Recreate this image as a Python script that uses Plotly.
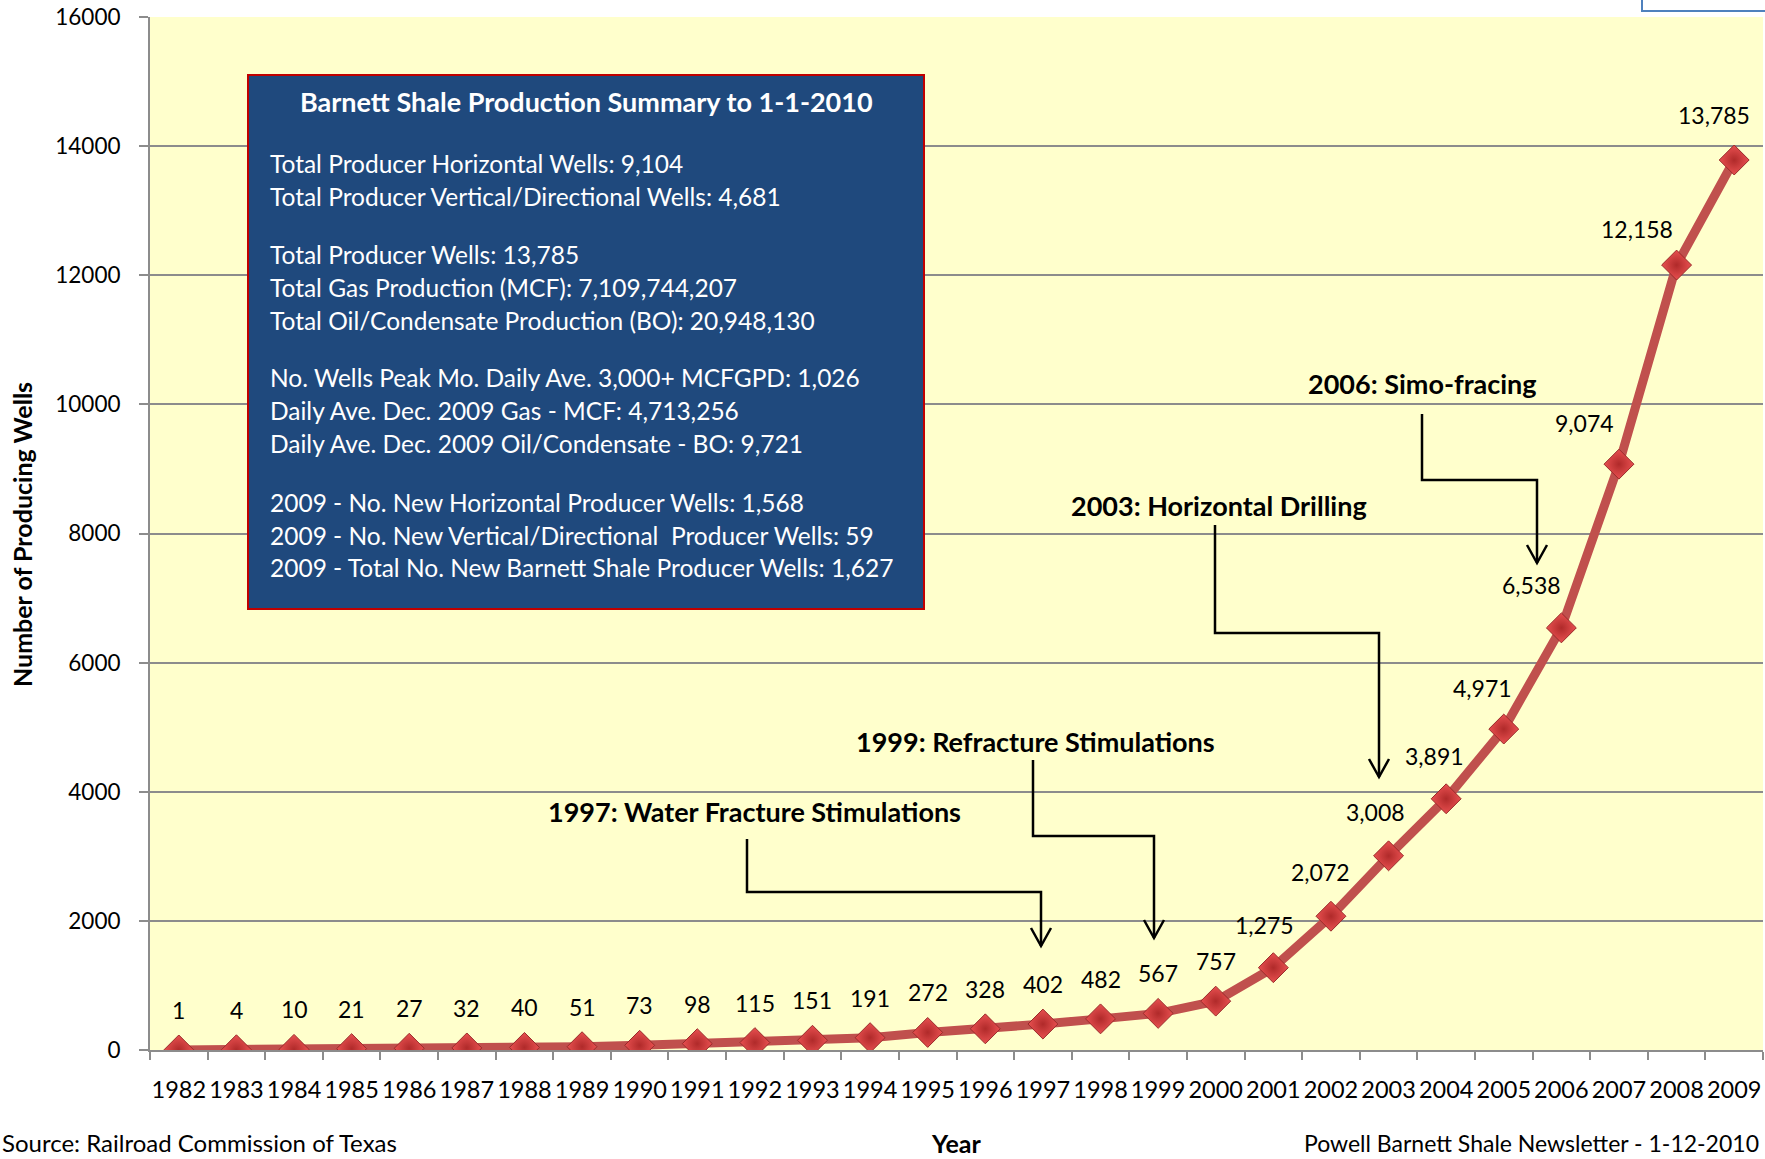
import plotly.graph_objects as go

# ---------------- data ----------------
years = [str(y) for y in range(1982, 2010)]
wells = [1, 4, 10, 21, 27, 32, 40, 51, 73, 98, 115, 151, 191, 272, 328, 402,
         482, 567, 757, 1275, 2072, 3008, 3891, 4971, 6538, 9074, 12158, 13785]
y_ticks = [0, 2000, 4000, 6000, 8000, 10000, 12000, 14000, 16000]

box_title = "Barnett Shale Production Summary to 1-1-2010"
box_lines = [
    "Total Producer Horizontal Wells: 9,104",
    "Total Producer Vertical/Directional Wells: 4,681",
    "Total Producer Wells: 13,785",
    "Total Gas Production (MCF): 7,109,744,207",
    "Total Oil/Condensate Production (BO): 20,948,130",
    "No. Wells Peak Mo. Daily Ave. 3,000+ MCFGPD: 1,026",
    "Daily Ave. Dec. 2009 Gas - MCF: 4,713,256",
    "Daily Ave. Dec. 2009 Oil/Condensate - BO: 9,721",
    "2009 - No. New Horizontal Producer Wells: 1,568",
    "2009 - No. New Vertical/Directional  Producer Wells: 59",
    "2009 - Total No. New Barnett Shale Producer Wells: 1,627",
]
events = [
    "1997: Water Fracture Stimulations",
    "1999: Refracture Stimulations",
    "2003: Horizontal Drilling",
    "2006: Simo-fracing",
]
x_title = "Year"
y_title = "Number of Producing Wells"
source_text = "Source: Railroad Commission of Texas"
credit_text = "Powell Barnett Shale Newsletter - 1-12-2010"

# ---------------- layout geometry (pixels) ----------------
W, H = 1765, 1159
L, R, T, B = 150, 1763, 17, 1050


def px(X):
    return (X - L) / (R - L)


def py(Y):
    return (B - Y) / (B - T)


FONT = "Lato, 'Open Sans', sans-serif"
LINE_RED = "#C0504D"

# label offsets (pixels, relative to point centre)
label_dx = [0] * 19 + [-9, -10, -13, -12, -21, -30, -34, -40, -20]
label_dy = [40] * 19 + [43, 44, 44, 43, 41, 43, 41, 36, 45]

fig = go.Figure()
fig.add_trace(go.Scatter(
    x=years, y=wells, mode="lines+markers",
    line=dict(color=LINE_RED, width=9),
    marker=dict(symbol="diamond", size=23, color="#E85050",
                gradient=dict(type="radial", color="#B02A2A"),
                line=dict(color="#9A2A2A", width=1)),
    hoverinfo="x+y", showlegend=False,
))

annotations = []
for i, v in enumerate(wells):
    annotations.append(dict(
        x=i, y=v, xref="x", yref="y", text=f"{v:,}", showarrow=False,
        xanchor="center", yanchor="middle",
        xshift=label_dx[i], yshift=label_dy[i],
        font=dict(family=FONT, size=23, color="#000000"),
    ))

shapes = []
# summary box
shapes.append(dict(type="rect", xref="paper", yref="paper",
                   x0=px(248), x1=px(924), y0=py(609), y1=py(75),
                   fillcolor="#1F497D", line=dict(color="#C00000", width=2),
                   layer="above"))
annotations.append(dict(x=px(586), y=py(102), xref="paper", yref="paper",
                        text=f"<b>{box_title}</b>", showarrow=False,
                        xanchor="center", yanchor="middle",
                        font=dict(family=FONT, size=27, color="white")))
line_y = [163, 196, 254, 287, 320, 378, 411, 443, 502, 535, 567]
for txt, yy in zip(box_lines, line_y):
    annotations.append(dict(x=px(268), y=py(yy), xref="paper", yref="paper",
                            text=txt, showarrow=False, xanchor="left",
                            yanchor="middle",
                            font=dict(family=FONT, size=24.5, color="white")))

# event annotations with elbow arrows
event_text_pos = [(754, 811), (1035, 741), (1219, 505), (1422, 383)]
event_paths = [
    [(747, 839), (747, 892), (1041, 892), (1041, 946)],
    [(1033, 760), (1033, 836), (1154, 836), (1154, 938)],
    [(1215, 525), (1215, 633), (1379, 633), (1379, 777)],
    [(1422, 414), (1422, 480), (1537, 480), (1537, 563)],
]
for txt, (tx, ty), pts in zip(events, event_text_pos, event_paths):
    annotations.append(dict(x=px(tx), y=py(ty), xref="paper", yref="paper",
                            text=f"<b>{txt}</b>", showarrow=False,
                            xanchor="center", yanchor="middle",
                            font=dict(family=FONT, size=27, color="black")))
    d = "M " + " L ".join(f"{px(a)},{py(b)}" for a, b in pts)
    shapes.append(dict(type="path", xref="paper", yref="paper", path=d,
                       line=dict(color="black", width=2.5), layer="above"))
    tipx, tipy = pts[-1]
    head = (f"M {px(tipx-10)},{py(tipy-18)} L {px(tipx)},{py(tipy)} "
            f"L {px(tipx+10)},{py(tipy-18)}")
    shapes.append(dict(type="path", xref="paper", yref="paper", path=head,
                       line=dict(color="black", width=2.5), layer="above"))

# partially visible legend box top-right
shapes.append(dict(type="rect", xref="paper", yref="paper",
                   x0=px(1642), x1=px(1768), y0=py(11), y1=py(-10),
                   fillcolor="white", line=dict(color="#4F81BD", width=2),
                   layer="above"))

# axis titles
annotations.append(dict(x=px(956), y=py(1143), xref="paper", yref="paper",
                        text=f"<b>{x_title}</b>", showarrow=False,
                        xanchor="center", yanchor="middle",
                        font=dict(family=FONT, size=25, color="black")))
annotations.append(dict(x=px(22), y=py(535), xref="paper", yref="paper",
                        text=f"<b>{y_title}</b>", showarrow=False,
                        textangle=-90, xanchor="center", yanchor="middle",
                        font=dict(family=FONT, size=25, color="black")))

# footer texts
annotations.append(dict(x=px(0), y=py(1159), xref="paper", yref="paper",
                        text=source_text, showarrow=False, xanchor="left",
                        yanchor="bottom",
                        font=dict(family=FONT, size=24, color="black")))
annotations.append(dict(x=px(1761), y=py(1159), xref="paper", yref="paper",
                        text=credit_text, showarrow=False, xanchor="right",
                        yanchor="bottom",
                        font=dict(family=FONT, size=23, color="black")))

fig.update_layout(
    width=W, height=H,
    margin=dict(l=L, r=W - R, t=T, b=H - B, pad=0),
    paper_bgcolor="white", plot_bgcolor="#FFFFCC",
    font=dict(family=FONT, size=22, color="black"),
    annotations=annotations, shapes=shapes,
    xaxis=dict(
        type="category", range=[-0.5, 27.5], tickson="boundaries",
        ticks="outside", ticklen=8, tickwidth=2, tickcolor="#8C8C8C",
        showline=True, linecolor="#8C8C8C", linewidth=2, showgrid=False,
        tickfont=dict(family=FONT, size=23.5), tickangle=0,
        ticklabelstandoff=18, automargin=False,
        fixedrange=True,
    ),
    yaxis=dict(
        range=[0, 16000], tickvals=y_ticks, tickformat="d",
        ticks="outside", ticklen=9, tickwidth=2, tickcolor="#8C8C8C",
        showline=True, linecolor="#8C8C8C", linewidth=2,
        showgrid=True, gridcolor="#8C8C8C", gridwidth=2, zeroline=False,
        tickfont=dict(family=FONT, size=22.5),
        ticklabelstandoff=14, automargin=False,
        fixedrange=True,
    ),
)

fig.write_html(
    "out.html",
    config={"displayModeBar": False},
    post_script="document.body.style.margin='0';"
                "document.body.style.overflow='hidden';",
)
